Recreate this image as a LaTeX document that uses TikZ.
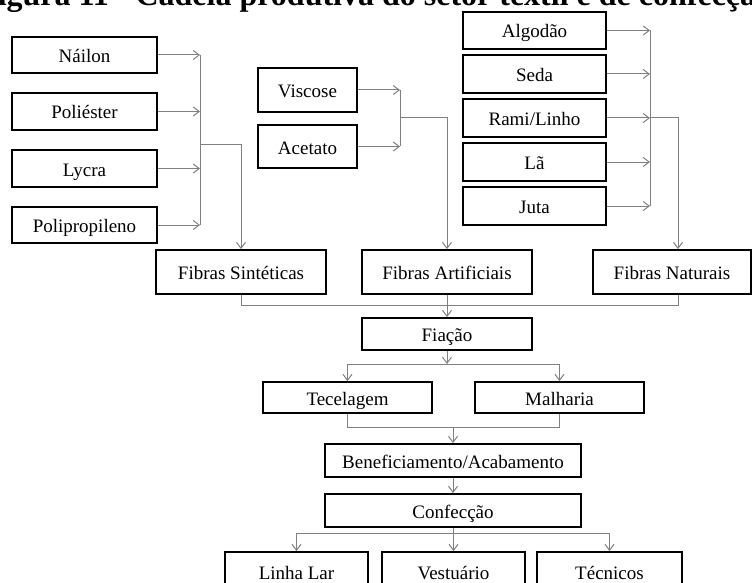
\documentclass[tikz,border=0pt]{standalone}
\usepackage{fontspec}
\setmainfont{Liberation Serif}
\usetikzlibrary{arrows.meta,calc}
\definecolor{conncol}{RGB}{128,128,128}
\tikzset{
  box/.style={draw=black, line width=1.8pt, fill=white, inner sep=0pt,
    text height=15pt, text depth=0pt,
    font=\fontsize{19}{22}\selectfont},
  conn/.style={draw=conncol, line width=1pt},
  arr/.style={conn, -{Straight Barb[length=6pt,width=9pt]}},
}
\begin{document}
\begin{tikzpicture}[x=1pt,y=-1pt]
\useasboundingbox (0,0) rectangle (752,583);
\clip (0,0) rectangle (752,583);
% title (partly cut off by the page, as in the reference)
\node[anchor=base west, inner sep=0pt, font=\bfseries\fontsize{32}{36}\selectfont] (title) at (-22,5.5) {Figura 11 - Cadeia produtiva do setor têxtil e de confecção};
% synthetic
\node[box, minimum width=145pt, minimum height=36pt] (nailon) at (84.5,55) {Náilon};
\node[box, minimum width=145pt, minimum height=37pt] (poli) at (84.5,111.5) {Poliéster};
\node[box, minimum width=145pt, minimum height=37pt] (lycra) at (84.5,168.5) {Lycra};
\node[box, minimum width=145pt, minimum height=36pt] (polip) at (84.5,225) {Polipropileno};
% artificial
\node[box, minimum width=99pt, minimum height=44pt] (visc) at (307.5,90) {Viscose};
\node[box, minimum width=99pt, minimum height=43pt] (acet) at (307.5,146.5) {Acetato};
% natural
\node[box, minimum width=143pt, minimum height=37pt] (alg) at (534.5,30.5) {Algodão};
\node[box, minimum width=143pt, minimum height=38pt] (seda) at (534.5,74) {Seda};
\node[box, minimum width=143pt, minimum height=38pt] (rami) at (534.5,118) {Rami/Linho};
\node[box, minimum width=143pt, minimum height=38pt] (la) at (534.5,162) {Lã};
\node[box, minimum width=143pt, minimum height=38pt] (juta) at (534.5,206) {Juta};
% fibre groups
\node[box, minimum width=170pt, minimum height=44pt] (sint) at (241,272) {Fibras Sintéticas};
\node[box, minimum width=170pt, minimum height=44pt] (art) at (447,272) {Fibras Artificiais};
\node[box, minimum width=158pt, minimum height=44pt] (nat) at (672,272) {Fibras Naturais};
% chain
\node[box, minimum width=170pt, minimum height=32pt] (fia) at (447,334) {Fiação};
\node[box, minimum width=169pt, minimum height=31pt] (tec) at (347.5,397.5) {Tecelagem};
\node[box, minimum width=169pt, minimum height=31pt] (mal) at (559.5,397.5) {Malharia};
\node[box, minimum width=256pt, minimum height=33pt] (ben) at (453,460.5) {Beneficiamento/Acabamento};
\node[box, minimum width=256pt, minimum height=33pt] (conf) at (453,510.5) {Confecção};
\node[box, minimum width=143pt, minimum height=40pt] (lar) at (296.5,572) {Linha Lar};
\node[box, minimum width=143pt, minimum height=40pt] (vest) at (453.5,572) {Vestuário};
\node[box, minimum width=145pt, minimum height=40pt] (tecn) at (609.5,572) {Técnicos};
% junction coordinates
\coordinate (busS) at (200,0);
\coordinate (jS) at (200,145);
\coordinate (busA) at (400,0);
\coordinate (jA) at (400,118);
\coordinate (busN) at (650,0);
\coordinate (dropN) at (678,0);
\coordinate (col) at (0,305);
\coordinate (split1) at (0,364);
\coordinate (merge1) at (0,427);
\coordinate (split2) at (0,533);
% synthetic connectors
\foreach \n in {nailon,poli,lycra,polip} \draw[arr] (\n.east) -- (\n.east -| busS);
\draw[conn] (nailon.east -| busS) -- (polip.east -| busS);
\draw[arr] (jS) -| (sint.north);
% artificial connectors
\foreach \n in {visc,acet} \draw[arr] (\n.east) -- (\n.east -| busA);
\draw[conn] (visc.east -| busA) -- (acet.east -| busA);
\draw[arr] (jA) -| (art.north);
% natural connectors
\foreach \n in {alg,seda,rami,la,juta} \draw[arr] (\n.east) -- (\n.east -| busN);
\draw[conn] (alg.east -| busN) -- (juta.east -| busN);
\draw[arr] (rami.east -| busN) -| (dropN |- nat.north);
% collector to Fiação
\draw[conn] (sint.south) |- (col -| dropN) -- (dropN |- nat.south);
\draw[arr] (art.south) -- (fia.north);
% Fiação split
\draw[arr] (fia.south) -- (fia.south |- split1);
\draw[conn] (tec.north |- split1) -- (mal.north |- split1);
\draw[arr] (tec.north |- split1) -- (tec.north);
\draw[arr] (mal.north |- split1) -- (mal.north);
% merge to Beneficiamento
\draw[conn] (tec.south) |- (mal.south |- merge1) -- (mal.south);
\draw[arr] (ben.north |- merge1) -- (ben.north);
\draw[arr] (ben.south) -- (conf.north);
% Confecção split
\draw[conn] (conf.south) -- (conf.south |- split2);
\draw[conn] (lar.north |- split2) -- (tecn.north |- split2);
\draw[arr] (lar.north |- split2) -- (lar.north);
\draw[arr] (vest.north |- split2) -- (vest.north);
\draw[arr] (tecn.north |- split2) -- (tecn.north);
\end{tikzpicture}
\end{document}
